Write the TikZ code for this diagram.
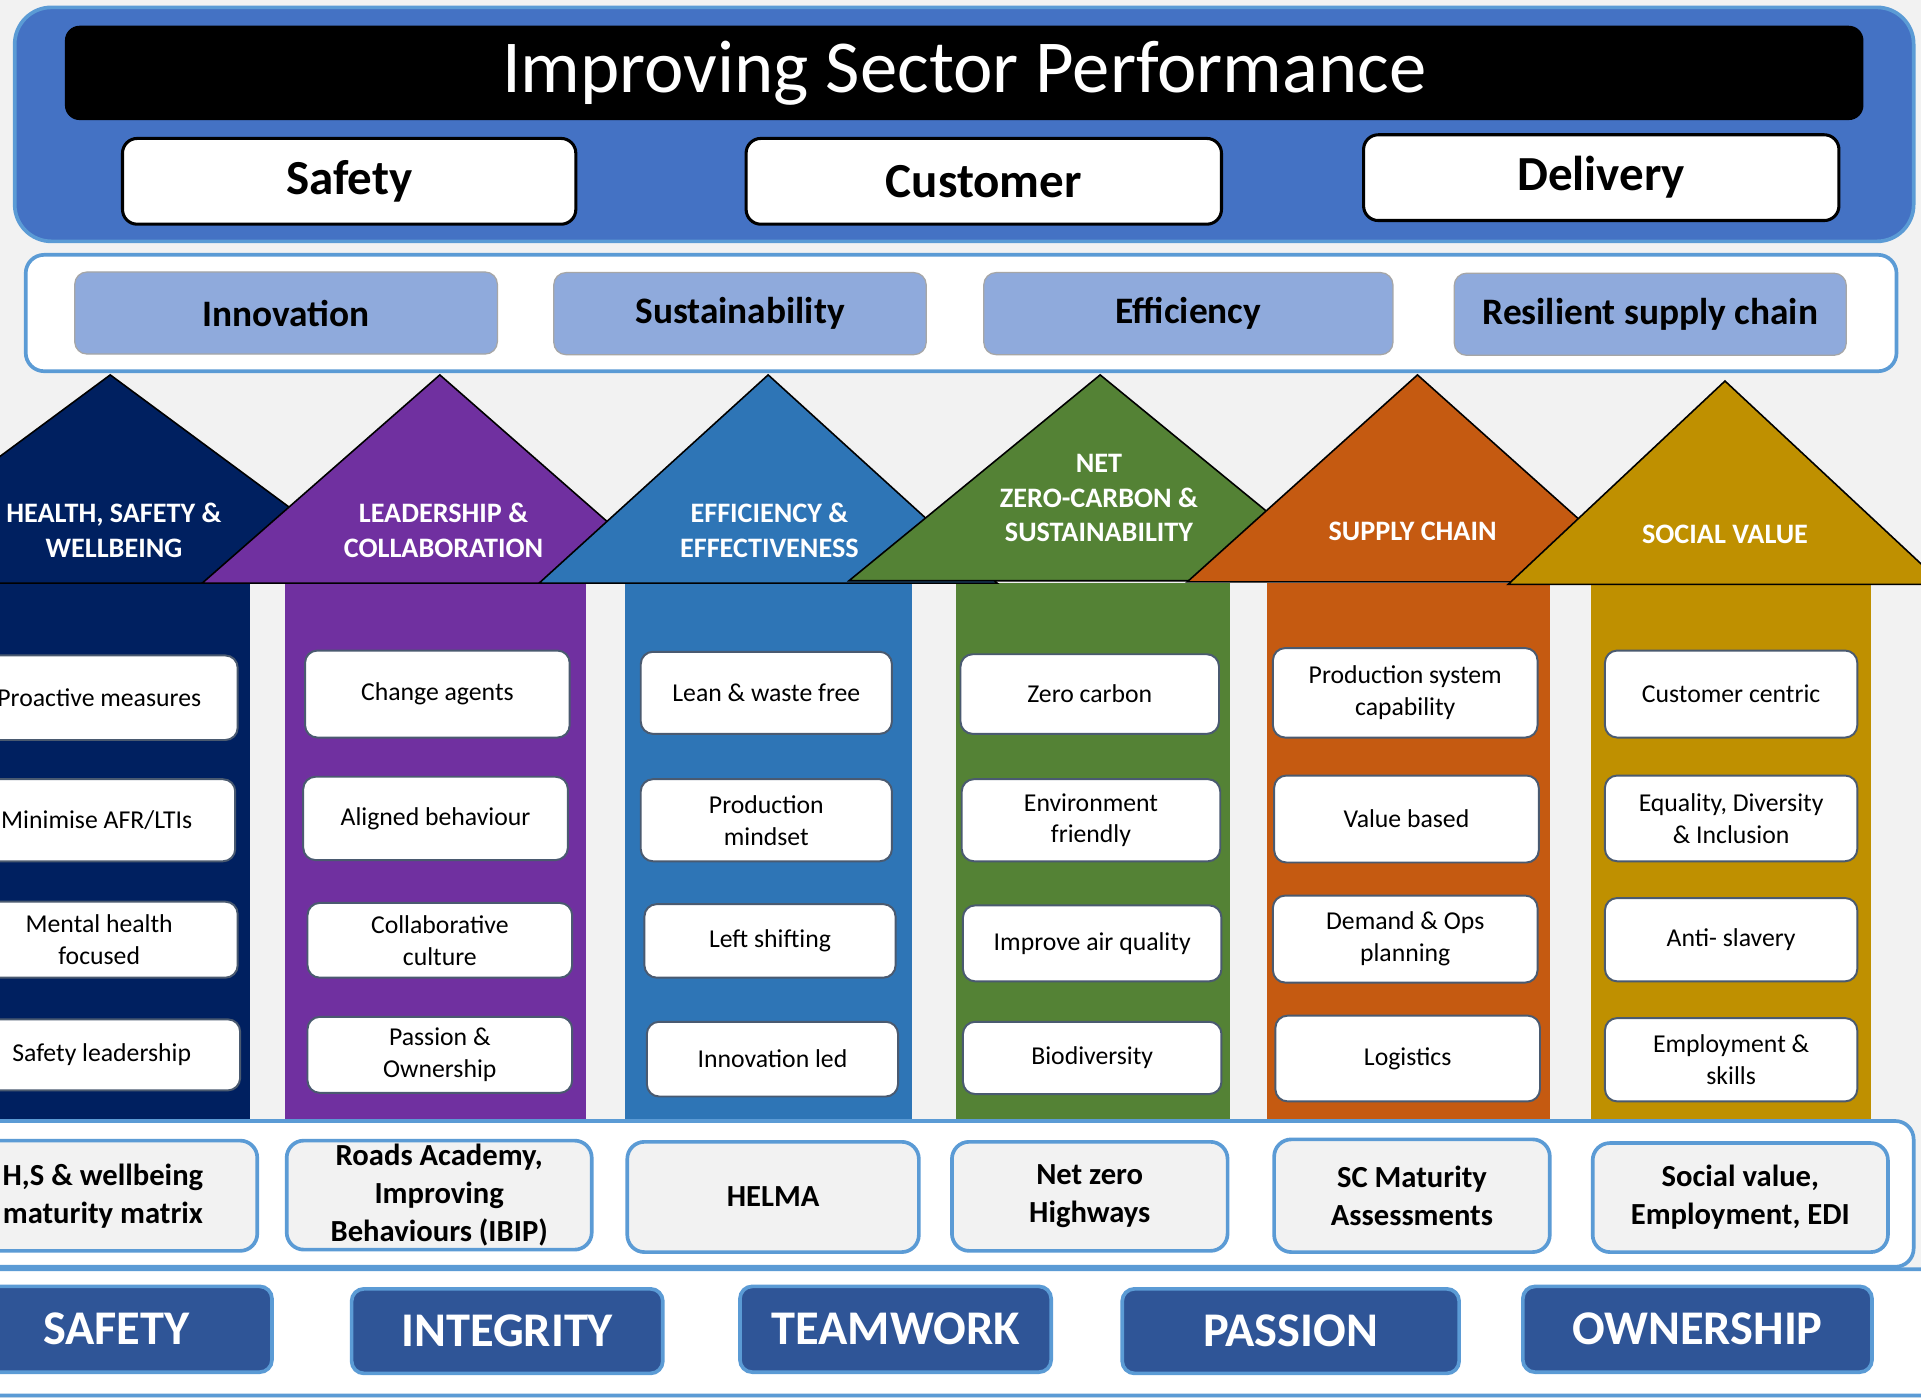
\documentclass[tikz,border=0pt]{standalone}
\usepackage{fontspec}
\setmainfont{Carlito}
\usetikzlibrary{positioning,calc}
\definecolor{pagegray}{HTML}{F2F2F2}
\definecolor{topblue}{HTML}{4472C4}
\definecolor{edgeblue}{HTML}{5B9BD5}
\definecolor{themefill}{HTML}{8FAADC}
\definecolor{itemedge}{HTML}{4A5A70}
\definecolor{valueblue}{HTML}{2F5597}
\definecolor{hsnavy}{HTML}{002060}
\definecolor{lcpurple}{HTML}{7030A0}
\definecolor{eeblue}{HTML}{2E75B6}
\definecolor{nzgreen}{HTML}{548235}
\definecolor{scorange}{HTML}{C55A11}
\definecolor{svgold}{HTML}{BF9000}
\tikzstyle{titlebar}=[rectangle, rounded corners=12pt, fill=black, text=white,
                    minimum width=1468pt, minimum height=77pt, inner sep=0pt,
                    font=\fontsize{61}{73}\selectfont]
\tikzstyle{goalbox}=[rectangle, rounded corners=12pt, draw=black, fill=white,
                    line width=2.5pt, minimum width=388pt, minimum height=70pt,
                    inner sep=0pt, font=\fontsize{40}{48}\selectfont\bfseries]
\tikzstyle{themebox}=[rectangle, rounded corners=10pt, draw=black!35, fill=themefill,
                    line width=1pt, minimum height=67pt, inner sep=0pt,
                    font=\fontsize{30.5}{36}\selectfont\bfseries]
\tikzstyle{pillarlabel}=[text=white, align=center, inner sep=0pt,
                    font=\fontsize{23}{28.5}\selectfont\bfseries]
\tikzstyle{itembox}=[rectangle, rounded corners=10pt, draw=itemedge, fill=white,
                    line width=1.6pt, minimum width=216pt, inner sep=0pt,
                    align=center, font=\fontsize{21}{26}\selectfont]
\tikzstyle{toolbox}=[rectangle, rounded corners=14pt, draw=edgeblue, fill=pagegray,
                    line width=3pt, minimum height=90pt, inner sep=0pt,
                    align=center, font=\fontsize{25}{31}\selectfont\bfseries]
\tikzstyle{valuebox}=[rectangle, rounded corners=10pt, draw=edgeblue, fill=valueblue,
                    line width=3pt, text=white, minimum width=254pt, minimum height=70pt,
                    inner sep=0pt, font=\fontsize{39.5}{47}\selectfont\bfseries]
\tikzstyle{panel}=[draw=edgeblue, line width=3pt, fill=white]
\tikzstyle{headtri}=[draw=black, line width=1.3pt, line join=miter]
\begin{document}
\begin{tikzpicture}[x=1pt, y=-1pt]
\useasboundingbox (0,0) rectangle (1568,1141);
\clip (0,0) rectangle (1568,1141);
\fill[pagegray] (0,0) rectangle (1568,1141);

% top goals
\draw[panel, fill=topblue, rounded corners=30pt] (12,6) rectangle (1562,197);
\node (PERF) [titlebar] at (787,59.5) {Improving Sector Performance};
\node (SAFE) [goalbox, minimum width=370pt] at (285,148) {Safety};
\node (CUST) [goalbox] at (803,148) {Customer};
\node (DELIV) [goalbox] at (1307,145) {Delivery};

% themes
\draw[panel, rounded corners=15pt] (21,208) rectangle (1548,303);
\node (INNOV) [themebox, minimum width=345pt] at (233.5,255.5) {Innovation};
\node (SUST) [themebox, minimum width=304pt] at (604,256) {Sustainability};
\node (EFFIC) [themebox, minimum width=334pt] at (970,256) {Efficiency};
\node (RESIL) [themebox, minimum width=320pt] at (1347,256.5) {Resilient supply chain};

% pillars
\fill[hsnavy] (-10,476) rectangle (204,930);
\fill[lcpurple] (233,476) rectangle (478,930);
\fill[eeblue] (510,476) rectangle (744,930);
\fill[nzgreen] (780,476) rectangle (1004,930);
\fill[scorange] (1034,476) rectangle (1265,930);
\fill[svgold] (1299,476) rectangle (1527,930);
\filldraw[headtri, fill=hsnavy] (90,306) -- (320,476) -- (-140,476) -- cycle;
\filldraw[headtri, fill=lcpurple] (359,306) -- (553,476) -- (165,476) -- cycle;
\filldraw[headtri, fill=eeblue] (627,306) -- (814,476) -- (440,476) -- cycle;
\filldraw[headtri, fill=nzgreen] (898,306) -- (1103,474) -- (693,474) -- cycle;
\filldraw[headtri, fill=scorange] (1157,306) -- (1346,475) -- (969,475) -- cycle;
\filldraw[headtri, fill=svgold] (1408,311) -- (1586,477) -- (1231,477) -- cycle;
\node (HSW) [pillarlabel] at (93,433) {HEALTH, SAFETY \&\\WELLBEING};
\node (LDR) [pillarlabel] at (362,433) {LEADERSHIP \&\\COLLABORATION};
\node (EFF) [pillarlabel] at (628,433) {EFFICIENCY \&\\EFFECTIVENESS};
\node (NZC) [pillarlabel] at (897,406.5) {NET\\ZERO-CARBON \&\\SUSTAINABILITY};
\node (SCH) [pillarlabel] at (1153,434) {SUPPLY CHAIN};
\node (SOCV) [pillarlabel] at (1408,436) {SOCIAL VALUE};

% pillar items
\node (HSW1) [itembox, minimum width=226pt, minimum height=69pt] at (81,569.5) {Proactive measures};
\node (HSW2) [itembox, minimum width=226pt, minimum height=67pt] at (79,669.5) {Minimise AFR/LTIs};
\node (HSW3) [itembox, minimum width=226pt, minimum height=62pt] at (81,767) {Mental health\\focused};
\node (HSW4) [itembox, minimum width=226pt, minimum height=58pt] at (83,861) {Safety leadership};
\node (LDR1) [itembox, minimum height=71pt] at (357,566.5) {Change agents};
\node (LDR2) [itembox, minimum height=68pt] at (355.5,668) {Aligned behaviour};
\node (LDR3) [itembox, minimum height=61pt] at (359,767.5) {Collaborative\\culture};
\node (LDR4) [itembox, minimum height=62pt] at (359,861) {Passion \&\\Ownership};
\node (EFF1) [itembox, minimum width=205pt, minimum height=67pt] at (625.5,565.5) {Lean \& waste free};
\node (EFF2) [itembox, minimum width=205pt, minimum height=67pt] at (625.5,669.5) {Production\\mindset};
\node (EFF3) [itembox, minimum width=205pt, minimum height=60pt] at (628.5,768) {Left shifting};
\node (EFF4) [itembox, minimum width=205pt, minimum height=61pt] at (630.5,864.5) {Innovation led};
\node (NZC1) [itembox, minimum width=211pt, minimum height=65pt] at (889.5,566.5) {Zero carbon};
\node (NZC2) [itembox, minimum width=211pt, minimum height=67pt] at (890.5,669.5) {Environment\\friendly};
\node (NZC3) [itembox, minimum width=211pt, minimum height=62pt] at (891.5,770) {Improve air quality};
\node (NZC4) [itembox, minimum width=211pt, minimum height=59pt] at (891.5,863.5) {Biodiversity};
\node (SCH1) [itembox, minimum height=73pt] at (1147,565.5) {Production system\\capability};
\node (SCH2) [itembox, minimum height=71pt] at (1148,668.5) {Value based};
\node (SCH3) [itembox, minimum height=71pt] at (1147,766.5) {Demand \& Ops\\planning};
\node (SCH4) [itembox, minimum height=70pt] at (1149,864) {Logistics};
\node (SOCV1) [itembox, minimum width=206pt, minimum height=71pt] at (1413,566.5) {Customer centric};
\node (SOCV2) [itembox, minimum width=206pt, minimum height=70pt] at (1413,668) {Equality, Diversity\\\& Inclusion};
\node (SOCV3) [itembox, minimum width=206pt, minimum height=68pt] at (1413,767) {Anti- slavery};
\node (SOCV4) [itembox, minimum width=206pt, minimum height=68pt] at (1413,865) {Employment \&\\skills};

% tools
\draw[panel, rounded corners=15pt] (-50,915) rectangle (1562,1034);
\node (HSWT) [toolbox, minimum width=252pt] at (84,976) {H,S \& wellbeing\\maturity matrix};
\node (LDRT) [toolbox, minimum width=249pt, minimum height=89pt] at (358.5,975.5) {Roads Academy,\\Improving\\Behaviours (IBIP)};
\node (EFFT) [toolbox, minimum width=238pt] at (631,977) {HELMA};
\node (NZCT) [toolbox, minimum width=225pt, minimum height=89pt] at (889.5,976.5) {Net zero\\Highways};
\node (SCHT) [toolbox, minimum width=225pt, minimum height=92pt] at (1152.5,976) {SC Maturity\\Assessments};
\node (SOCVT) [toolbox, minimum width=241pt, minimum height=89pt] at (1420.5,977.5) {Social value,\\Employment, EDI};

% values
\draw[panel, rounded corners=15pt] (-50,1036) rectangle (1590,1139);
\node (VSAFE) [valuebox] at (95,1085) {SAFETY};
\node (VINTEG) [valuebox, minimum height=69pt] at (414,1086.5) {INTEGRITY};
\node (VTEAM) [valuebox] at (731,1085) {TEAMWORK};
\node (VPASS) [valuebox, minimum width=275pt, minimum height=69pt] at (1053.5,1086.5) {PASSION};
\node (VOWN) [valuebox, minimum width=285pt] at (1385.5,1085) {OWNERSHIP};

\end{tikzpicture}
\end{document}
